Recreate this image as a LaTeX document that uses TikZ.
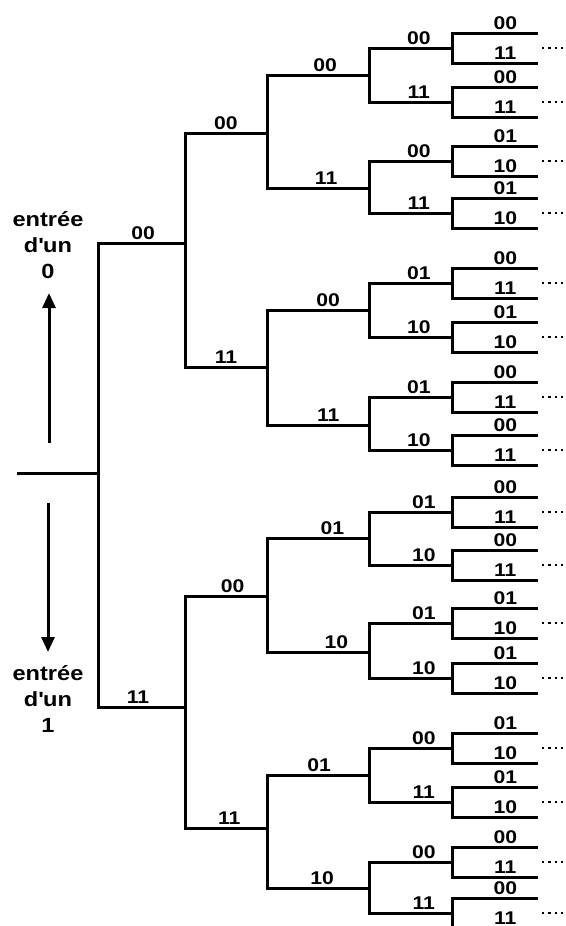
\documentclass[tikz,border=0pt]{standalone}
\usepackage{fontspec}
\setmainfont{Liberation Sans}[FakeStretch=1.15]
\usetikzlibrary{arrows.meta}
\begin{document}
\begin{tikzpicture}[x=0.5pt,y=-0.5pt,
  edge/.style={line width=1.5pt},
  lab/.style={font=\bfseries\fontsize{9.2}{10}\selectfont, inner sep=0pt, above=1.1pt},
  txt/.style={font=\bfseries\fontsize{10.25}{12.9}\selectfont, align=center, inner sep=0pt},
  dotline/.style={line width=1.2pt, dash pattern=on 1.1pt off 2.05pt},
  arr/.style={line width=1.5pt, -{Triangle[length=7.5pt,width=6.5pt]}}]
\useasboundingbox (0,0) rectangle (566,926);
\clip (0,0) rectangle (566,926);
% tree points
\coordinate (S) at (17,473);
\coordinate (R) at (98,473);
\coordinate (A1) at (185,243);
\coordinate (A2) at (185,707);
\coordinate (B1) at (267,133);
\coordinate (B2) at (267,367);
\coordinate (B3) at (267,596);
\coordinate (B4) at (267,828);
\foreach \i/\y in {1/75,2/188,3/310,4/425,5/538,6/652,7/775,8/888}
  \coordinate (C\i) at (369,\y);
\foreach \i/\y in {1/48,2/102,3/161,4/213,5/283,6/337,7/397,8/450,9/512,10/565,11/623,12/678,13/748,14/802,15/862,16/913}{
  \coordinate (D\i) at (452,\y);
  \coordinate (E\i a) at (538,{\y-15});
  \coordinate (E\i b) at (538,{\y+15});
}
% edges
\draw[edge] (S) -- (R);
\draw[edge] (R) |- node[lab,pos=.76]{00} (A1);
\draw[edge] (R) |- node[lab,pos=.73]{11} (A2);
\foreach \pa/\ch/\lb/\ps in {A1/B1/00/.75, A1/B2/11/.75, A2/B3/00/.79, A2/B4/11/.77}
  \draw[edge] (\pa) |- node[lab,pos=\ps]{\lb} (\ch);
\foreach \pa/\ch/\lb/\ps in {B1/C1/00/.785, B1/C2/11/.79, B2/C3/00/.8, B2/C4/11/.8, B3/C5/01/.82, B3/C6/10/.84, B4/C7/01/.755, B4/C8/10/.77}
  \draw[edge] (\pa) |- node[lab,pos=\ps]{\lb} (\ch);
\foreach \pa/\ch/\lb/\ps in {C1/D1/00/.8, C1/D2/11/.8, C2/D3/00/.8, C2/D4/11/.8, C3/D5/01/.8, C3/D6/10/.8, C4/D7/01/.8, C4/D8/10/.8, C5/D9/01/.83, C5/D10/10/.83, C6/D11/01/.83, C6/D12/10/.83, C7/D13/00/.83, C7/D14/11/.83, C8/D15/00/.83, C8/D16/11/.83}
  \draw[edge] (\pa) |- node[lab,pos=\ps]{\lb} (\ch);
% leaves
\foreach \i/\la/\lc in {1/00/11,2/00/11,3/01/10,4/01/10,5/00/11,6/01/10,7/00/11,8/00/11,9/00/11,10/00/11,11/01/10,12/01/10,13/01/10,14/01/10,15/00/11,16/00/11}{
  \draw[edge] (D\i) |- node[lab,pos=.81]{\la} (E\i a);
  \draw[edge] (D\i) |- node[lab,pos=.81]{\lc} (E\i b);
  \draw[dotline] (D\i) ++(90,0) -- ++(21,0);
}
% input arrows and texts
\coordinate (u1) at (49,443);
\coordinate (u2) at (49,293);
\coordinate (d1) at (48,503);
\coordinate (d2) at (48,652);
\draw[arr] (u1) -- (u2);
\draw[arr] (d1) -- (d2);
\node[txt, anchor=base] (in0) at (48,278) {entrée\\d\textquotesingle un\\0};
\node[txt, anchor=base] (in1) at (48,732) {entrée\\d\textquotesingle un\\1};
\end{tikzpicture}
\end{document}
